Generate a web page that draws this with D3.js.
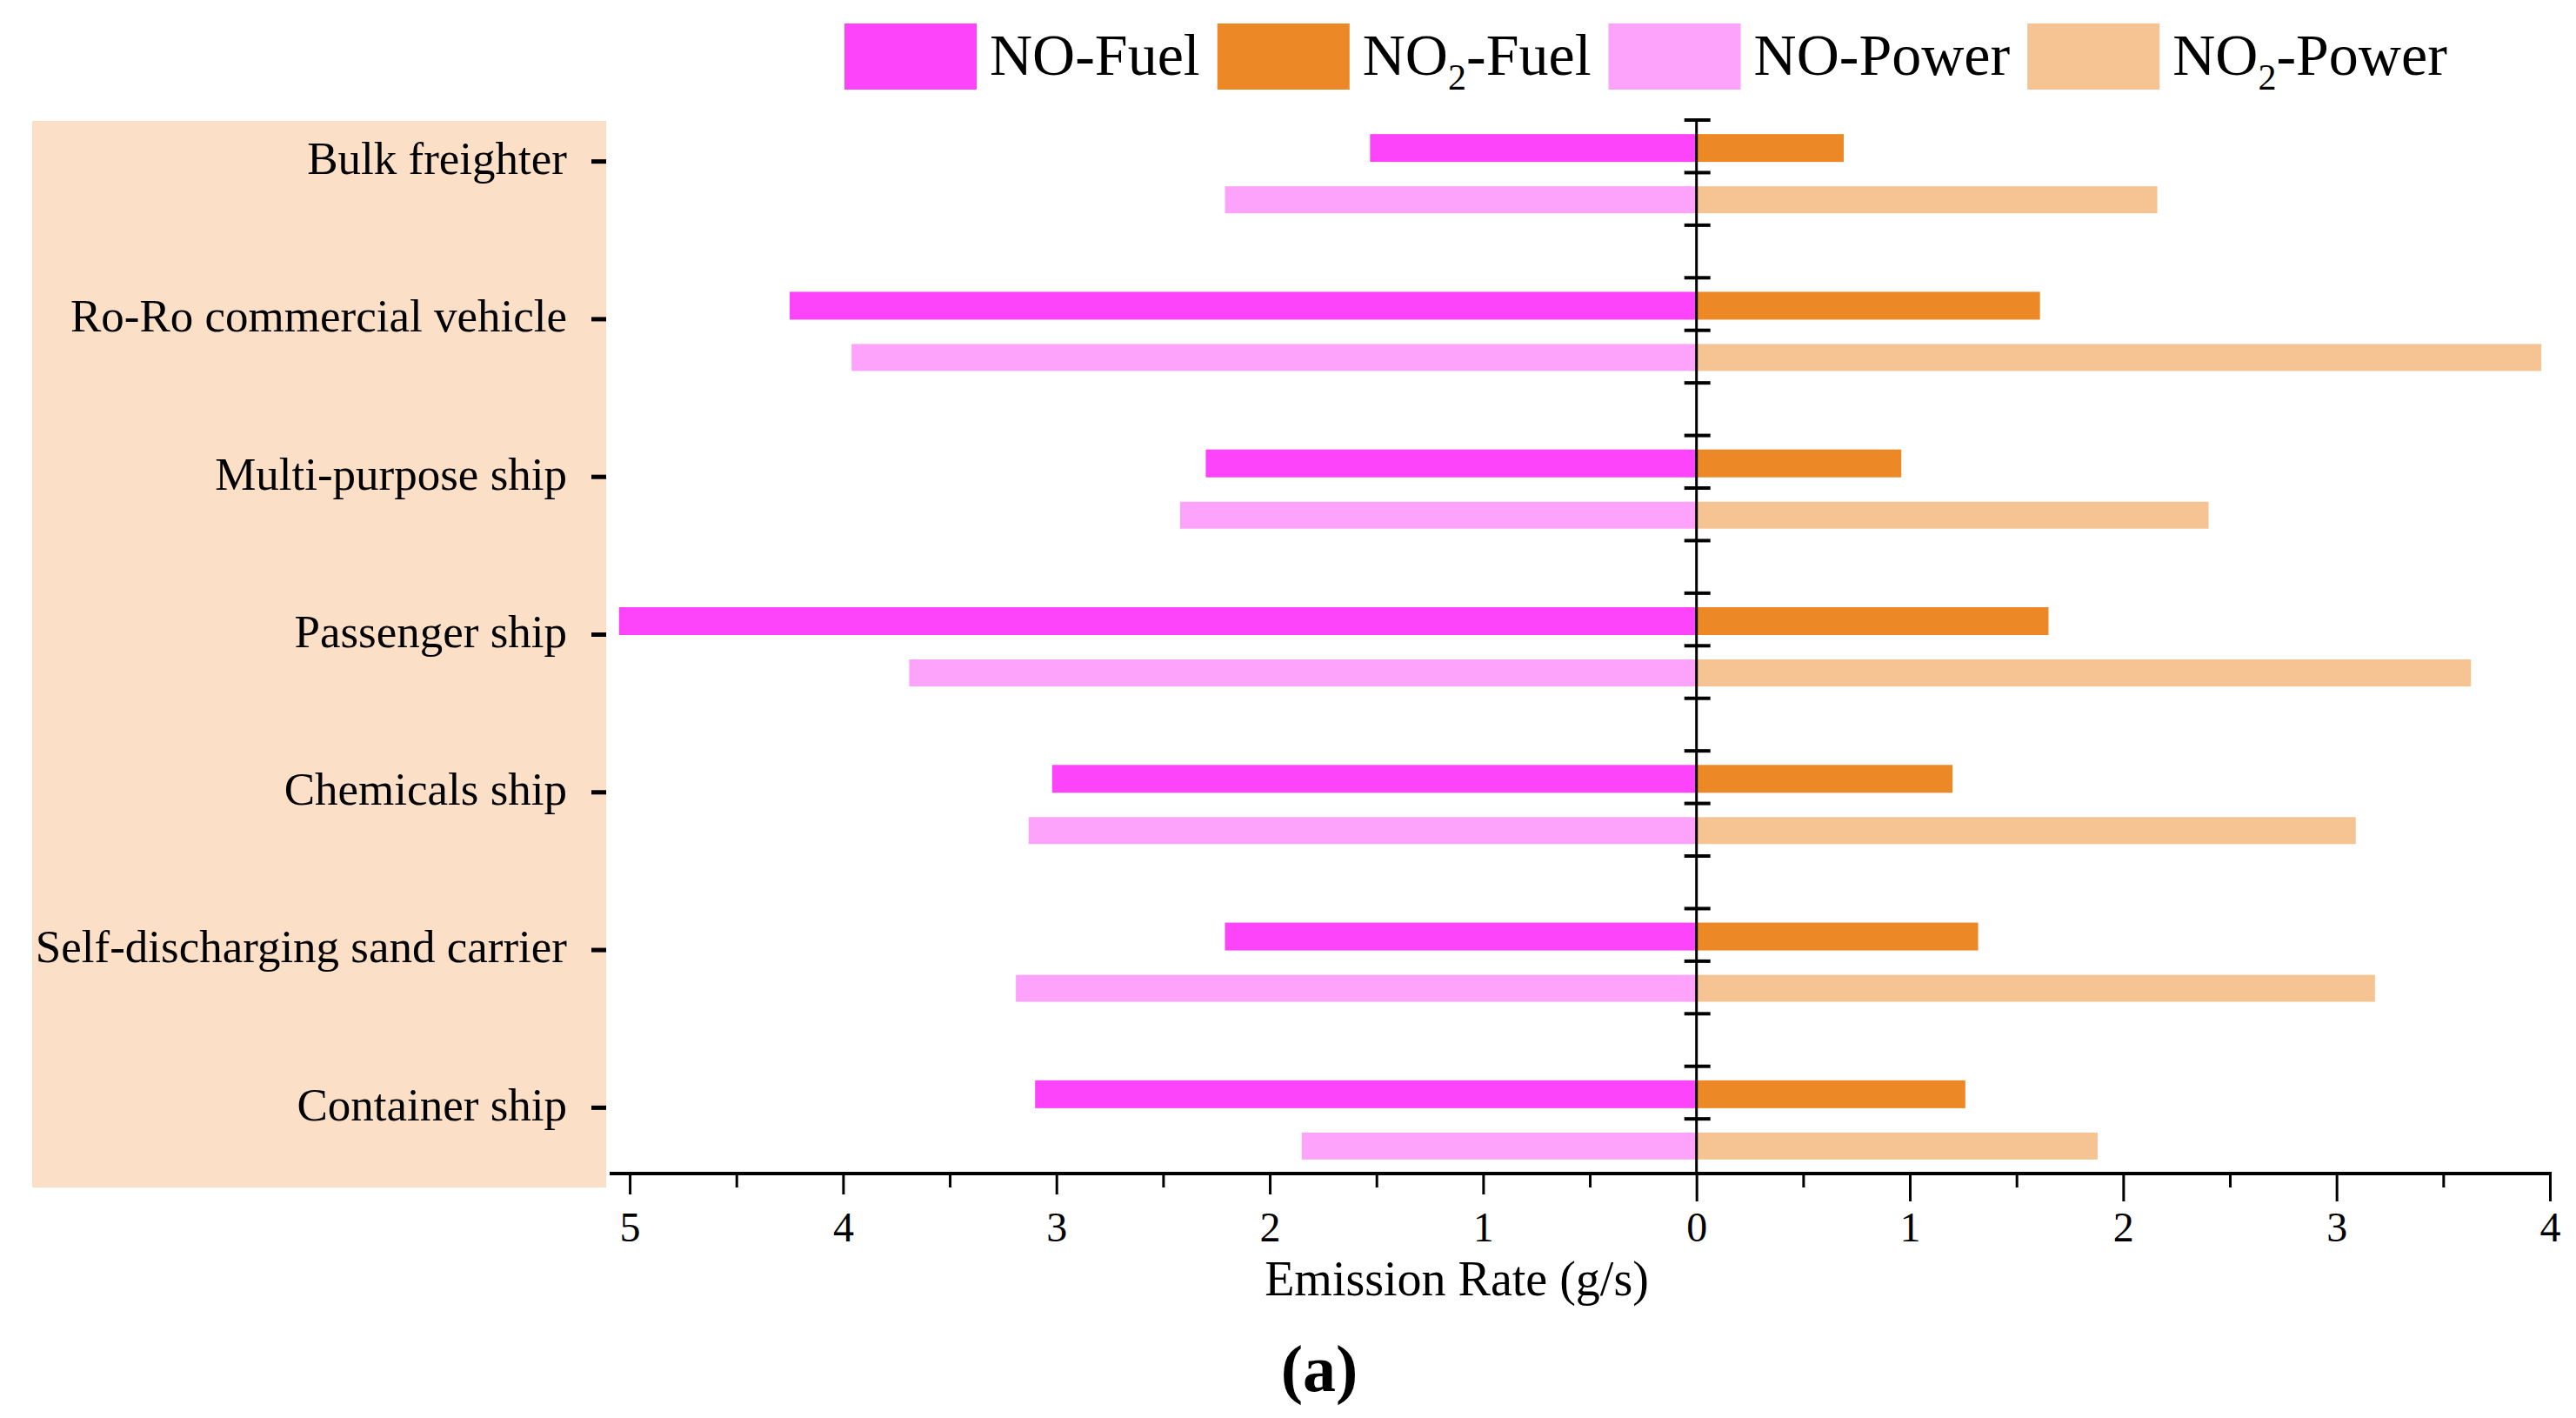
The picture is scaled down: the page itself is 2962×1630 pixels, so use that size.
<!DOCTYPE html>
<html>
<head>
<meta charset="utf-8">
<script src="https://cdn.jsdelivr.net/npm/d3@7"></script>
<style>
  body { margin: 0; background: #fff; }
  svg { display: block; font-family: "Liberation Serif", "Times New Roman", serif; }
</style>
</head>
<body>
<svg id="chart" width="2962" height="1630"></svg>
<script>
// ship types, top to bottom
const categories = [
  "Bulk freighter",
  "Ro-Ro commercial vehicle",
  "Multi-purpose ship",
  "Passenger ship",
  "Chemicals ship",
  "Self-discharging sand carrier",
  "Container ship"
];
// emission rates (g/s)
const noFuel   = [1.53, 4.25, 2.30, 5.05, 3.02, 2.21, 3.10];
const no2Fuel  = [0.69, 1.61, 0.96, 1.65, 1.20, 1.32, 1.26];
const noPower  = [2.21, 3.96, 2.42, 3.69, 3.13, 3.19, 1.85];
const no2Power = [2.16, 3.96, 2.40, 3.63, 3.09, 3.18, 1.88];

const seriesNames = ["NO-Fuel", "NO2-Fuel", "NO-Power", "NO2-Power"];
const seriesColors = ["#fd44fb", "#ed8826", "#fda3fc", "#f6c493"];
const leftTicks = [-5, -4, -3, -2, -1];
const rightTicks = [0, 1, 2, 3, 4];
const xTitle = "Emission Rate (g/s)";
const panelLabel = "(a)";

const svg = d3.select("#chart");

const axisY = 1349;
const x = d3.scaleLinear().domain([-5.094, 4]).range([701, 2932]);
const y = d3.scaleLinear().domain([-0.26, 6.42]).range([138, axisY]);
const x0 = x(0);

// shaded label panel
svg.append("rect")
  .attr("x", 37).attr("y", 139)
  .attr("width", 697 - 37).attr("height", 1365 - 139)
  .attr("fill", "#fbdfc6");

// bars: fuel row above, power row below each category
const rows = categories.map((c, i) => ({ i, noFuel: noFuel[i], no2Fuel: no2Fuel[i], noPower: noPower[i], no2Power: no2Power[i] }));
const barDefs = [
  { key: "noFuel",   sign: -1, top: -0.171, bot: 0.0055, color: seriesColors[0] },
  { key: "no2Fuel",  sign:  1, top: -0.171, bot: 0.0055, color: seriesColors[1] },
  { key: "noPower",  sign: -1, top: 0.16,   bot: 0.331,  color: seriesColors[2] },
  { key: "no2Power", sign:  1, top: 0.16,   bot: 0.331,  color: seriesColors[3] }
];

const bars = svg.append("g");
barDefs.forEach(b => {
  bars.selectAll(null)
    .data(rows)
    .enter()
    .append("rect")
    .attr("x", d => Math.min(x(b.sign * d[b.key]), x0))
    .attr("width", d => Math.abs(x(b.sign * d[b.key]) - x0))
    .attr("y", d => y(d.i + b.top))
    .attr("height", d => y(d.i + b.bot) - y(d.i + b.top))
    .attr("fill", b.color);
});

// category axis
const catAxis = svg.append("g")
  .attr("transform", "translate(697,0)")
  .call(d3.axisLeft(y).tickValues(d3.range(categories.length))
    .tickFormat(i => categories[i]).tickSize(17).tickPadding(28));
catAxis.select(".domain").remove();
catAxis.selectAll(".tick line").attr("stroke", "#000").attr("stroke-width", 5);
catAxis.selectAll(".tick text")
  .attr("font-size", 53).attr("font-family", "Liberation Serif")
  .attr("fill", "#000").attr("dy", "0.27em");

// bottom axis: left half and right half have slightly different tick lengths
function bottomAxis(values, size) {
  const g = svg.append("g")
    .attr("transform", `translate(0,${axisY})`)
    .call(d3.axisBottom(x).tickValues(values).tickSize(size).tickFormat(d => Math.abs(d)));
  g.select(".domain").remove();
  g.selectAll(".tick line").attr("stroke", "#000").attr("stroke-width", 3);
  g.selectAll(".tick text")
    .attr("font-size", 48).attr("font-family", "Liberation Serif")
    .attr("fill", "#000").attr("dy", null).attr("y", 78);
  return g;
}
bottomAxis(leftTicks, 24);
bottomAxis(rightTicks, 32);

const minor = svg.append("g")
  .attr("transform", `translate(0,${axisY})`)
  .call(d3.axisBottom(x).tickValues(d3.range(-4.5, 4, 1)).tickSize(16).tickFormat(""));
minor.select(".domain").remove();
minor.selectAll(".tick line").attr("stroke", "#000").attr("stroke-width", 3);

svg.append("line")
  .attr("x1", x.range()[0]).attr("x2", x.range()[1] + 2)
  .attr("y1", axisY).attr("y2", axisY)
  .attr("stroke", "#000").attr("stroke-width", 4);

// zero axis with its ticks
svg.append("line")
  .attr("x1", x0).attr("x2", x0)
  .attr("y1", y.range()[0]).attr("y2", axisY)
  .attr("stroke", "#000").attr("stroke-width", 3);

const zeroTicks = d3.range(20).map(k => -0.26 + k / 3);
svg.append("g").selectAll("line")
  .data(zeroTicks)
  .enter()
  .append("line")
  .attr("x1", x0 - 14).attr("x2", x0 + 16)
  .attr("y1", d => y(d)).attr("y2", d => y(d))
  .attr("stroke", "#000").attr("stroke-width", 4);

// titles
svg.append("text")
  .attr("x", 1675).attr("y", 1489)
  .attr("text-anchor", "middle")
  .attr("font-size", 56)
  .text(xTitle);

svg.append("text")
  .attr("x", 1517).attr("y", 1599)
  .attr("text-anchor", "middle")
  .attr("font-size", 76).attr("font-weight", "bold")
  .text(panelLabel);

// legend
const legend = svg.append("g");
let lx = 971;
seriesNames.forEach((name, i) => {
  legend.append("rect")
    .attr("x", lx).attr("y", 27)
    .attr("width", 152).attr("height", 76)
    .attr("fill", seriesColors[i]);
  const t = legend.append("text")
    .attr("x", lx + 167).attr("y", 86)
    .attr("font-size", 68);
  const m = name.match(/^NO2(.*)$/);
  if (m) {
    t.append("tspan").text("NO");
    t.append("tspan").attr("font-size", 42).attr("dy", 17).text("2");
    t.append("tspan").attr("dy", -17).text(m[1]);
  } else {
    t.text(name);
  }
  lx = lx + 167 + t.node().getComputedTextLength() + 20;
});
</script>
</body>
</html>
